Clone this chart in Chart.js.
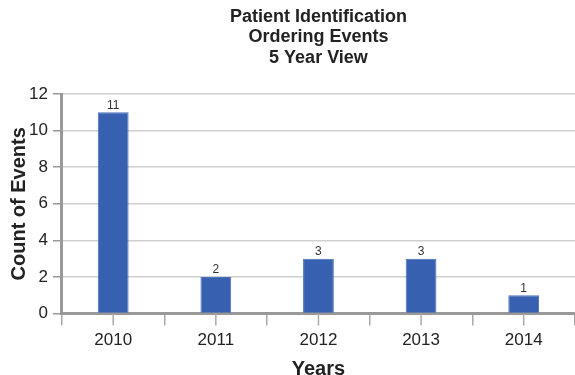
<!DOCTYPE html>
<html>
<head>
<meta charset="utf-8">
<script src="https://cdn.jsdelivr.net/npm/chart.js@4/dist/chart.umd.min.js"></script>
<style>
  html, body { margin: 0; padding: 0; background: #fff; }
  #wrap { width: 575px; height: 375px; }
</style>
</head>
<body>
<div id="wrap"><canvas id="chart" width="575" height="375"></canvas></div>
<script>
const titleLines = ['Patient Identification', 'Ordering Events', '5 Year View'];
const years = ['2010', '2011', '2012', '2013', '2014'];
const eventCounts = [11, 2, 3, 3, 1];
const yTicks = [0, 2, 4, 6, 8, 10, 12];

const FONT = '"Liberation Sans", Arial, sans-serif';

// title centred over the plot, not the canvas
const plotTitle = {
    id: 'plotTitle',
    afterDraw(chart) {
        const ctx = chart.ctx;
        const cx = (chart.chartArea.left + chart.chartArea.right) / 2;
        ctx.save();
        ctx.font = 'bold 18px ' + FONT;
        ctx.fillStyle = '#222';
        ctx.textAlign = 'center';
        ctx.textBaseline = 'middle';
        titleLines.forEach(function(line, i) {
            ctx.fillText(line, cx, 17 + i * 20.5);
        });
        ctx.restore();
    }
};

// value labels over bars + tick marks at category centres
const barExtras = {
    id: 'barExtras',
    afterDatasetsDraw(chart) {
        const ctx = chart.ctx;
        const meta = chart.getDatasetMeta(0);
        ctx.save();
        ctx.font = '12px ' + FONT;
        ctx.fillStyle = '#333';
        ctx.textAlign = 'center';
        ctx.textBaseline = 'bottom';
        meta.data.forEach(function(bar, i) {
            ctx.fillText(eventCounts[i], bar.x, bar.y - 1);
        });
        const x = chart.scales.x;
        ctx.strokeStyle = '#aaa';
        ctx.lineWidth = 1.5;
        years.forEach(function(y, i) {
            const px = x.getPixelForValue(i);
            ctx.beginPath();
            ctx.moveTo(px, x.top);
            ctx.lineTo(px, x.top + 12);
            ctx.stroke();
        });
        ctx.restore();
    }
};

new Chart(document.getElementById('chart'), {
    type: 'bar',
    data: {
        labels: years,
        datasets: [{
            data: eventCounts,
            backgroundColor: '#3761b0',
            borderColor: '#4a72bd',
            borderWidth: 1,
            categoryPercentage: 1,
            barPercentage: 0.3
        }]
    },
    options: {
        responsive: false,
        animation: false,
        layout: { padding: { left: 7, right: -3, top: 94, bottom: -6 } },
        plugins: {
            legend: { display: false },
            tooltip: { enabled: false },
            title: { display: false }
        },
        scales: {
            x: {
                offset: true,
                grid: {
                    offset: true,
                    drawOnChartArea: false,
                    color: '#aaa',
                    tickLength: 12,
                    lineWidth: 1.5
                },
                border: { color: '#999', width: 3 },
                ticks: {
                    color: '#222',
                    font: { family: FONT, size: 17 },
                    padding: 5
                },
                title: {
                    display: true,
                    text: 'Years',
                    color: '#222',
                    font: { family: FONT, size: 20, weight: 'bold' },
                    padding: { top: 1, bottom: 0 }
                }
            },
            y: {
                min: 0,
                max: 12,
                afterBuildTicks(axis) {
                    axis.ticks = yTicks.map(function(v) { return { value: v }; });
                },
                grid: {
                    color: '#d0d0d0',
                    lineWidth: 1.5,
                    tickLength: 9,
                    tickColor: '#999'
                },
                border: { color: '#999', width: 3 },
                ticks: {
                    color: '#222',
                    font: { family: FONT, size: 17 },
                    padding: 5
                },
                title: {
                    display: true,
                    text: 'Count of Events',
                    color: '#222',
                    font: { family: FONT, size: 20, weight: 'bold' },
                    padding: { top: 0, bottom: -7 }
                }
            }
        }
    },
    plugins: [plotTitle, barExtras]
});
</script>
</body>
</html>
